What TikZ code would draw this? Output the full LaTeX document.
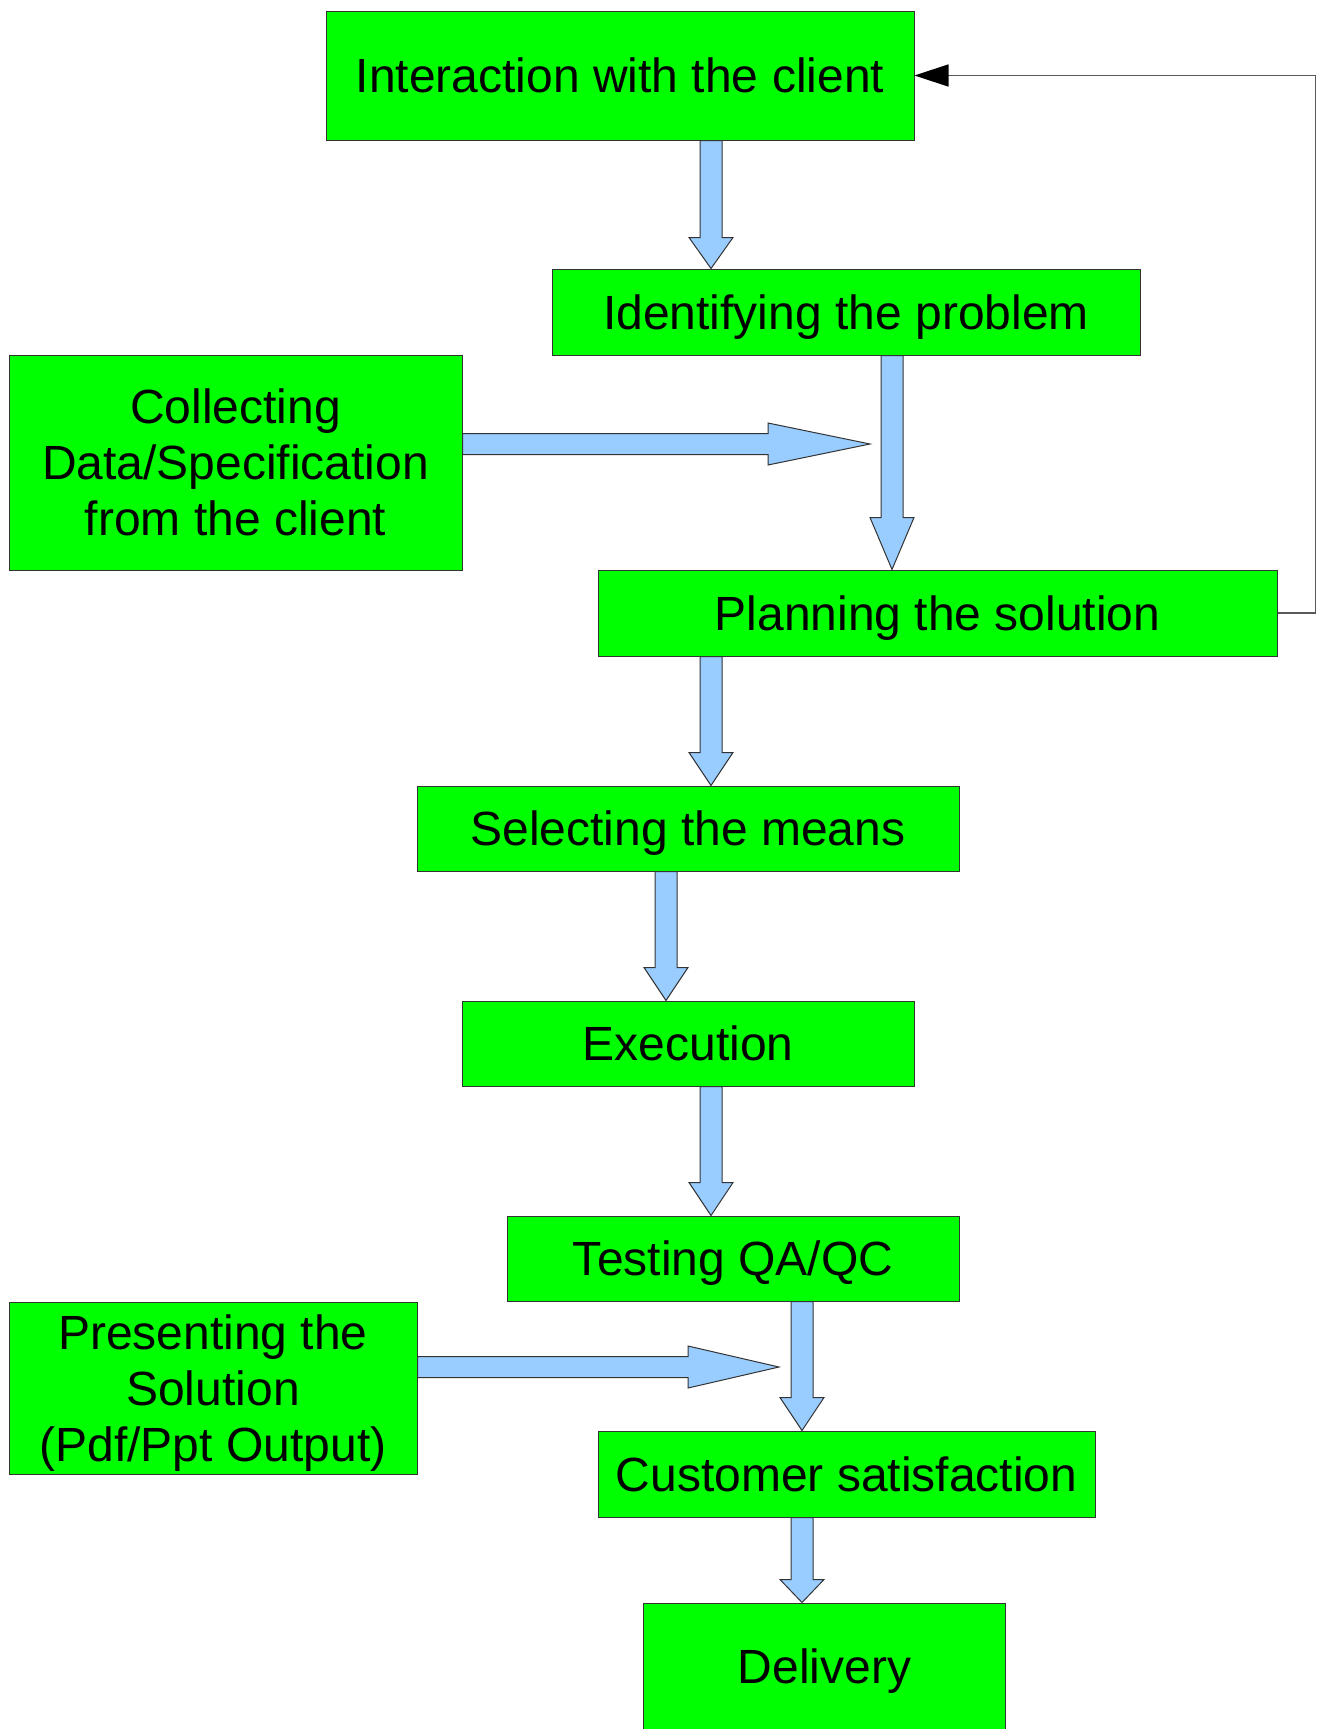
\documentclass[tikz,border=0pt]{standalone}
\usepackage{fontspec}
\setmainfont{Liberation Sans}
\usetikzlibrary{calc,arrows.meta}

\definecolor{verde}{HTML}{00FF00}
\definecolor{celeste}{HTML}{99CCFF}

\tikzset{
  caja/.style={draw=black!80, line width=1pt, fill=verde, inner sep=0pt, align=center,
    text depth=0pt, font=\fontsize{48}{56}\selectfont},
  bloque/.style={draw=black!80, line width=1pt, fill=celeste, line join=miter},
  retorno/.style={draw=black!65, line width=1.5pt, -{Triangle[length=34pt,width=22pt,color=black]}}
}

% Flecha ancha hacia abajo: (inicio) (punta) largo de la punta
\newcommand{\flechaabajo}[3]{%
  \draw[bloque] ($(#1)+(-11,0)$) -- ($(#2)+(-11,-#3)$) -- ($(#2)+(-22,-#3)$) -- (#2)
    -- ($(#2)+(22,-#3)$) -- ($(#2)+(11,-#3)$) -- ($(#1)+(11,0)$) -- cycle;}

% Flecha ancha hacia la derecha
\newcommand{\flechaderecha}[3]{%
  \draw[bloque] ($(#1)+(0,-10.5)$) -- ($(#2)+(-#3,-10.5)$) -- ($(#2)+(-#3,-21)$) -- (#2)
    -- ($(#2)+(-#3,21)$) -- ($(#2)+(-#3,10.5)$) -- ($(#1)+(0,10.5)$) -- cycle;}

\begin{document}
\begin{tikzpicture}[x=1pt, y=-1pt]
      \clip (0,0) rectangle (1319,1729);
      \fill[white] (0,0) rectangle (1319,1729);

      % Cajas
      \node at (620,75.5) [caja, minimum width=588pt, minimum height=129pt] (inter) {Interaction with the client};
      \node at (846,312) [caja, minimum width=588pt, minimum height=86pt] (ident) {Identifying the problem};
      \node at (235.5,462.5) [caja, minimum width=453pt, minimum height=215pt] (recol) {Collecting\\Data/Specification\\from the client};
      \node at (937.5,613) [caja, minimum width=679pt, minimum height=86pt] (plan) {Planning the solution};
      \node at (688,828.5) [caja, minimum width=542pt, minimum height=85pt] (selec) {Selecting the means};
      \node at (688,1043.5) [caja, minimum width=452pt, minimum height=85pt] (ejec) {Execution};
      \node at (733,1258.5) [caja, minimum width=452pt, minimum height=85pt] (prueba) {Testing QA/QC};
      \node at (213,1388) [caja, minimum width=408pt, minimum height=172pt] (pres) {Presenting the\\Solution\\(Pdf/Ppt Output)};
      \node at (846.5,1474) [caja, minimum width=497pt, minimum height=86pt] (satis) {Customer satisfaction};
      \node at (824.5,1671.5) [caja, minimum width=362pt, minimum height=137pt, text depth=10pt] (entrega) {Delivery};

      % Puntos de las flechas
      \coordinate (a1) at (inter.south -| 711,0);
      \coordinate (b1) at (ident.north -| 711,0);
      \coordinate (a2) at (ident.south -| 892,0);
      \coordinate (b2) at (plan.north -| 892,0);
      \coordinate (a3) at (recol.east |- 0,444);
      \coordinate (b3) at (870,444);
      \coordinate (a4) at (plan.south -| 711,0);
      \coordinate (b4) at (selec.north -| 711,0);
      \coordinate (a5) at (selec.south -| 666,0);
      \coordinate (b5) at (ejec.north -| 666,0);
      \coordinate (a6) at (ejec.south -| 711,0);
      \coordinate (b6) at (prueba.north -| 711,0);
      \coordinate (a7) at (prueba.south -| 802,0);
      \coordinate (b7) at (satis.north -| 802,0);
      \coordinate (a8) at (pres.east |- 0,1367);
      \coordinate (b8) at (779,1367);
      \coordinate (a9) at (satis.south -| 802,0);
      \coordinate (b9) at (entrega.north -| 802,0);

      % Flechas anchas
      \flechaabajo{a1}{b1}{31}
      \flechaabajo{a2}{b2}{52}
      \flechaderecha{a3}{b3}{102}
      \flechaabajo{a4}{b4}{33}
      \flechaabajo{a5}{b5}{33}
      \flechaabajo{a6}{b6}{33}
      \flechaabajo{a7}{b7}{33}
      \flechaderecha{a8}{b8}{91}
      \flechaabajo{a9}{b9}{23}

      % Retorno al cliente
      \draw[retorno] (plan.east) -- ++(38,0) |- (inter.east);
\end{tikzpicture}
\end{document}
